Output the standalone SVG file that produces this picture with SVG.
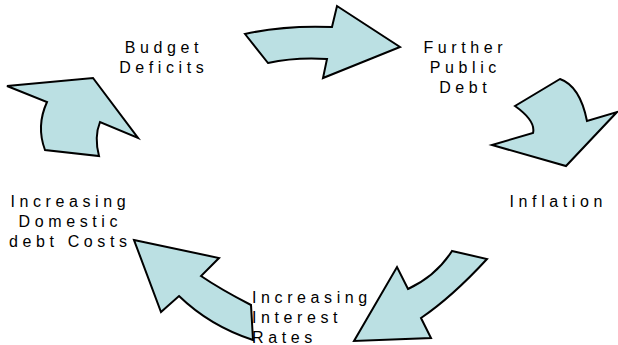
<svg xmlns="http://www.w3.org/2000/svg" width="618" height="345" viewBox="0 0 618 345">
  <style>
    .arrow { fill: #BBE0E3; stroke: #000; stroke-width: 2; stroke-linejoin: miter; }
    .label { font-family: "Liberation Sans", Arial, sans-serif; font-size: 16px; letter-spacing: 4.6px; fill: #000; }
    .mid { text-anchor: middle; }
  </style>
  <rect width="618" height="345" fill="#fff"/>

  <!-- curved block arrows linking the stages of the cycle -->
  <g id="connectors">
    <path class="arrow" d="M245,34 Q285,25 332,27 L337,6 L400,47 L323,78 L327,59 Q295,57 268,63 Z"/>
    <path class="arrow" d="M560,79 Q580,86 587,121 L617,112 L566,166 L492,145 L533,133 Q536,121 515,106 Z"/>
    <path class="arrow" d="M452,251 L487,259 Q452,297 421,318 L431,338 L354,341 L397,267 L408,289 Q436,276 452,251 Z"/>
    <path class="arrow" d="M134,240 L219,258 L201,276 Q220,289 251,305 L253,340 Q210,326 179,296 L161,312 Z"/>
    <path class="arrow" d="M7,86 L93,78 L138,138 L100,122 Q94,137 99,156 L45,150 Q36,126 47,102 Z"/>
  </g>

  <g id="budget-deficits">
    <text class="label mid" x="163.8" y="53">Budget</text>
    <text class="label mid" x="163.8" y="73">Deficits</text>
  </g>
  <g id="further-public-debt">
    <text class="label mid" x="465.3" y="53">Further</text>
    <text class="label mid" x="465.3" y="73">Public</text>
    <text class="label mid" x="465.3" y="93">Debt</text>
  </g>
  <g id="inflation">
    <text class="label mid" x="558.3" y="207">Inflation</text>
  </g>
  <g id="increasing-interest-rates">
    <text class="label" x="252" y="303">Increasing</text>
    <text class="label" x="252" y="323">Interest</text>
    <text class="label" x="252" y="343">Rates</text>
  </g>
  <g id="increasing-domestic-debt-costs">
    <text class="label mid" x="70.3" y="207">Increasing</text>
    <text class="label mid" x="70.3" y="227">Domestic</text>
    <text class="label mid" x="70.3" y="247">debt Costs</text>
  </g>
</svg>
